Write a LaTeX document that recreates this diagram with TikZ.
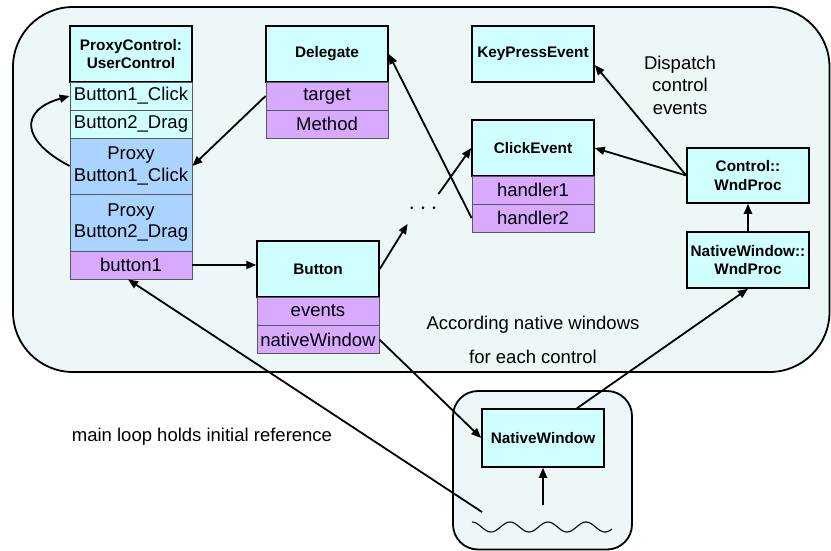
\documentclass[tikz,border=0pt]{standalone}
\usepackage{fontspec}
\setmainfont{Liberation Sans}
\usetikzlibrary{arrows.meta}
\definecolor{cyanbox}{RGB}{208,255,255}
\definecolor{violetbox}{RGB}{216,170,255}
\definecolor{proxybox}{RGB}{170,212,255}
\definecolor{bgfill}{RGB}{238,247,247}

\begin{document}
\begin{tikzpicture}[x=1pt, y=-1pt, line width=1.8pt, >={Triangle[length=10pt,width=8pt]},
    hdr/.style={draw, fill=cyanbox, line width=1.5pt, inner sep=0pt,
      minimum width=122pt, minimum height=56pt, align=center,
      font=\bfseries\fontsize{15.3}{18.5}\selectfont},
    fld/.style={draw=black!65, fill=violetbox, line width=0.8pt, inner sep=0pt,
      minimum width=122pt, minimum height=28pt, align=center,
      font=\fontsize{18.5}{21.5}\selectfont},
    txt/.style={align=center, font=\fontsize{18.5}{22.5}\selectfont}]
    \useasboundingbox (0,0) rectangle (831,551);

    % containers
    \draw[fill=bgfill, rounded corners=60pt] (13,7) rectangle (829.5,372);
    \draw[fill=bgfill, rounded corners=25pt] (453,391) rectangle (632,549.5);

    % proxy control
    \node[hdr](pc) at (131,54) {ProxyControl:\\UserControl};
    \node[fld, fill=cyanbox](b1click) at (131,96) {Button1\_Click};
    \node[fld, fill=cyanbox](b2drag) at (131,124) {Button2\_Drag};
    \node[fld, fill=proxybox, minimum height=56pt](pb1) at (131,166) {Proxy\\Button1\_Click};
    \node[fld, fill=proxybox, minimum height=57pt](pb2) at (131,222.5) {Proxy\\Button2\_Drag};
    \node[fld](btn1) at (131,265) {button1};

    % delegate
    \node[hdr](dlg) at (327,54) {Delegate};
    \node[fld](target) at (327,96) {target};
    \node[fld](method) at (327,124) {Method};

    % button
    \node[hdr](button) at (318,269) {Button};
    \node[fld](events) at (318,311) {events};
    \node[fld](nw) at (318,339.5) {nativeWindow};

    % events
    \node[hdr](kpe) at (533,54) {KeyPressEvent};
    \node[hdr](click) at (533,148) {ClickEvent};
    \node[fld](h1) at (533,190) {handler1};
    \node[fld](h2) at (533,218) {handler2};
    \node[inner sep=0pt, minimum width=24pt, minimum height=28pt,
      font=\fontsize{24}{26}\selectfont](dots) at (423,209) {$\cdots$};

    % window procedures
    \node[hdr, minimum height=55pt](cwp) at (748,175.5) {Control::\\WndProc};
    \node[hdr](nwwp) at (748,260) {NativeWindow::\\WndProc};
    \node[hdr, minimum height=58pt](nwin) at (543,438) {NativeWindow};

    % labels
    \node[txt](dispatch) at (680,85) {Dispatch\\control\\events};
    \node[txt, font=\fontsize{18.5}{34}\selectfont](according) at (533,340) {According native windows\\for each control};
    \node[txt](mainloop) at (202,437) {main loop holds initial reference};

    % message source
    \draw[line width=1.1pt] plot[domain=0:140, samples=90, smooth]
      ({472+\x}, {527-5*cos(\x*9.4737)});
    \coordinate(loopstart) at (482,512);
    \coordinate(wavetop) at (543,505);

    \draw[->](pb1.west) .. controls (20,140) and (20,110) .. (b1click.west);
    \draw[->](target.west) -- (pb1.east);
    \draw[->](btn1.east) -- (button.west |- btn1.east);
    \draw[->](button.east) -- (dots.south west);
    \draw[->](dots.north east) -- (click.west);
    \draw[->](h2.west) -- (dlg.east);
    \draw[->](cwp.west) -- (click.east);
    \draw[->](cwp.west) -- ([yshift=-11pt]kpe.east);
    \draw[->](nwwp.north) -- (cwp.south);
    \draw[->]([xshift=34pt]nwin.north) -- (nwwp.south);
    \draw[->](nw.east) -- (nwin.west);
    \draw[->](loopstart) -- ([xshift=-3pt]btn1.south);
    \draw[->](wavetop) -- (nwin.south);
  \end{tikzpicture}
\end{document}
